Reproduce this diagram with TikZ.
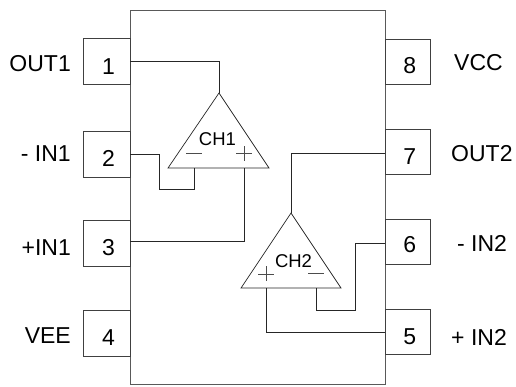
\documentclass[tikz,border=0pt]{standalone}
\usepackage{fontspec}
\setmainfont{Liberation Sans}
\tikzset{
  pinbox/.style={draw=black!75,line width=0.8pt,fill=white,inner sep=0pt,minimum width=46pt},
  leftbox/.style={pinbox,minimum width=46.5pt,minimum height=46pt},
  rightbox/.style={pinbox,minimum width=45pt,minimum height=45pt},
  digit/.style={font=\fontsize{23}{23}\selectfont,inner sep=0pt},
  wire/.style={draw=black!85,line width=0.7pt},
  body/.style={draw=black!65,line width=1pt},
  opamp/.style={draw=black!85,line width=0.7pt,line join=miter},
  pinlabel/.style={font=\fontsize{23}{23}\selectfont,inner sep=0pt},
  chlabel/.style={font=\fontsize{18.5}{18.5}\selectfont,inner sep=0pt},
  sign/.style={draw=black!70,line width=0.6pt}
}
\begin{document}
\begin{tikzpicture}[x=1pt,y=-1pt]
\useasboundingbox (0,0) rectangle (516,386);
\fill[white] (0,0) rectangle (516,386);
\draw[body] (130,10) rectangle (385,384);
\node[leftbox] (p1) at (106.75,61.4) {};
\node[leftbox] (p2) at (106.75,154.5) {};
\node[leftbox] (p3) at (106.75,243.7) {};
\node[leftbox] (p4) at (106.75,333.7) {};
\node[rightbox] (p8) at (407.5,62.2) {};
\node[rightbox] (p7) at (407.5,152.2) {};
\node[rightbox] (p6) at (407.5,242.2) {};
\node[rightbox] (p5) at (407.5,332.3) {};
\node[digit] (d1) at (108.5,66.7) {1};
\node[digit] (d2) at (108.5,158) {2};
\node[digit] (d3) at (108.5,248) {3};
\node[digit] (d4) at (108.5,338) {4};
\node[digit] (d8) at (409.7,66) {8};
\node[digit] (d7) at (409.7,156.7) {7};
\node[digit] (d6) at (409.7,245) {6};
\node[digit] (d5) at (409.7,337) {5};
\node[pinlabel,anchor=east] (l1) at (71,63.7) {OUT1};
\node[pinlabel,anchor=east] (l2) at (71,154) {- IN1};
\node[pinlabel,anchor=east] (l3) at (71,247.7) {+IN1};
\node[pinlabel,anchor=east] (l4) at (71,336) {VEE};
\node[pinlabel,anchor=west] (l8) at (454,63) {VCC};
\node[pinlabel,anchor=west] (l7) at (451,154) {OUT2};
\node[pinlabel,anchor=west] (l6) at (457,243) {- IN2};
\node[pinlabel,anchor=west] (l5) at (451,337) {+ IN2};
% amplifier CH1
\coordinate (a1) at (219,93);
\coordinate (a1l) at (168,168);
\coordinate (a1r) at (269,168);
\coordinate (a1m) at (194,168);
\coordinate (a1p) at (244,168);
\draw[opamp] (a1) -- (a1r) -- (a1l) -- cycle;
\node[chlabel] (c1) at (217.5,139.5) {CH1};
\draw[sign] (186,153) -- (202,153);
\draw[sign] (236,153) -- (252,153) (244,146) -- (244,161);
% amplifier CH2
\coordinate (a2) at (291,213);
\coordinate (a2l) at (241,288);
\coordinate (a2r) at (341,288);
\coordinate (a2p) at (266,288);
\coordinate (a2m) at (316.5,288);
\draw[opamp] (a2) -- (a2r) -- (a2l) -- cycle;
\node[chlabel] (c2) at (293.5,260.7) {CH2};
\draw[sign] (308,273) -- (324,273);
\draw[sign] (258,274) -- (274,274) (266,266) -- (266,281);
% wires
\coordinate (w1) at (130,61);
\coordinate (w2) at (130,154);
\coordinate (w3) at (130,241);
\coordinate (w7) at (385,153.5);
\coordinate (w6) at (385,243.5);
\coordinate (w5) at (385,332);
\draw[wire] (w1) -- (a1 |- w1) -- (a1);
\draw[wire] (w2) -- (159,154) -- (159,189) -- (194,189) -- (a1m);
\draw[wire] (w3) -- (a1p |- w3) -- (a1p);
\draw[wire] (w7) -- (a2 |- w7) -- (a2);
\draw[wire] (w6) -- (355,243.5) -- (355,310) -- (316.5,310) -- (a2m);
\draw[wire] (w5) -- (a2p |- w5) -- (a2p);
\end{tikzpicture}
\end{document}
